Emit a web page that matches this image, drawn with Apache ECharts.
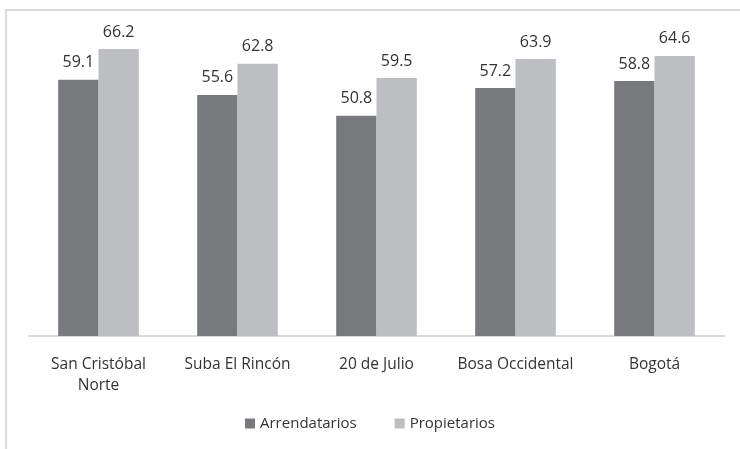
<!DOCTYPE html>
<html lang="es">
<head>
    <meta charset="UTF-8">
    <title>Arrendatarios y propietarios</title>
    <script src="https://cdn.jsdelivr.net/npm/echarts@6/dist/echarts.min.js"></script>
    <style>
        html, body { margin: 0; padding: 0; background: #fff; }
    </style>
</head>
<body>
<div id="mybox" style="width:740px;height:449px;"></div>
<script>
    // datos
    var categorias = ['San Cristóbal\nNorte', 'Suba El Rincón', '20 de Julio', 'Bosa Occidental', 'Bogotá'];
    var arrendatarios = [59.1, 55.6, 50.8, 57.2, 58.8];
    var propietarios = [66.2, 62.8, 59.5, 63.9, 64.6];

    var fuente = 'Open Sans';
    var mychart = echarts.init(document.getElementById('mybox'));

    mychart.setOption({
        animation: false,
        textStyle: { fontFamily: fuente },
        // marco gris
        graphic: [{
            type: 'polyline',
            shape: { points: [[6, 449], [6, 10], [740, 10]] },
            style: { stroke: '#dcdcdc', lineWidth: 2, fill: null }
        }],
        grid: { left: 29, right: 16, top: 32.5, bottom: 113 },
        legend: {
            data: ['Arrendatarios', 'Propietarios'],
            bottom: 13,
            left: 'center',
            icon: 'rect',
            itemWidth: 10,
            itemHeight: 10,
            itemGap: 38,
            textStyle: { fontSize: 15, color: '#333', fontFamily: fuente }
        },
        xAxis: {
            type: 'category',
            data: categorias,
            axisLine: { lineStyle: { color: '#d9d9d9', width: 2 } },
            axisTick: { show: false },
            axisLabel: { interval: 0, hideOverlap: false, fontSize: 15.5, color: '#333', margin: 18, lineHeight: 21, fontFamily: fuente }
        },
        yAxis: {
            type: 'value',
            min: 0,
            max: 70,
            show: false
        },
        series: [{
            name: 'Arrendatarios',
            type: 'bar',
            data: arrendatarios,
            barGap: 0,
            barCategoryGap: '42%',
            itemStyle: { color: '#78797d' },
            label: { show: true, position: 'top', distance: 9, fontSize: 16, color: '#333', fontFamily: fuente }
        }, {
            name: 'Propietarios',
            type: 'bar',
            data: propietarios,
            itemStyle: { color: '#bdbec2' },
            label: { show: true, position: 'top', distance: 9, fontSize: 16, color: '#333', fontFamily: fuente }
        }]
    });
</script>
</body>
</html>
